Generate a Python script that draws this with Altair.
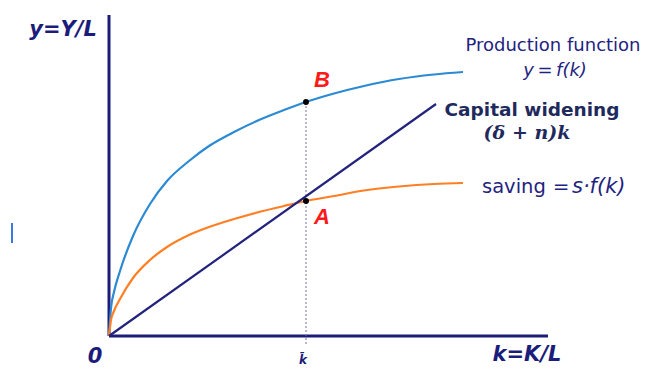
import altair as alt
import pandas as pd

# Values (arbitrary units: k along x, y along y)
k_prod = [0, 2, 5, 11, 24, 41, 58, 80, 100, 125, 150, 175, 197, 225, 255, 290, 325, 354]
y_prod = [0, 28, 44, 65, 100, 132, 155, 175, 190, 204, 216, 226, 234, 242.5, 250, 257, 261.5, 264]

k_sav = [0, 2, 5, 11, 24, 41, 58, 80, 100, 125, 150, 175, 197, 225, 255, 290, 325, 354]
y_sav = [0, 16, 25, 37, 58, 76, 89, 101, 109, 117, 124, 130, 135, 140, 145.5, 149.5, 152, 153]

k_wid = [0, 327]
y_wid = [0, 232]

k_bar = 197
y_B = 234
y_A = 135

x_axis_end = 439
y_axis_end = 321

NAVY = "#1c1c7a"
BLUE = "#2b8ad3"
ORANGE = "#ff7f24"
LINE = "#23237e"
RED = "#ff1a1a"
TXT = "#1f2380"

xs = alt.Scale(domain=[-101, 533], nice=False, zero=False)
ys = alt.Scale(domain=[-32, 328], nice=False, zero=False)


def X(f="x"):
    return alt.X(f"{f}:Q", scale=xs, axis=None)


def Y(f="y"):
    return alt.Y(f"{f}:Q", scale=ys, axis=None)


prod = pd.DataFrame({"x": k_prod, "y": y_prod})
sav = pd.DataFrame({"x": k_sav, "y": y_sav})
wid = pd.DataFrame({"x": k_wid, "y": y_wid})

l_prod = alt.Chart(prod).mark_line(color=BLUE, strokeWidth=2.2, interpolate="monotone").encode(x=X(), y=Y())
l_sav = alt.Chart(sav).mark_line(color=ORANGE, strokeWidth=2.2, interpolate="monotone").encode(x=X(), y=Y())
l_wid = alt.Chart(wid).mark_line(color=LINE, strokeWidth=2.2).encode(x=X(), y=Y())

axes_df = pd.DataFrame({"x": [0, 0], "y": [0, 0], "x2": [0, x_axis_end], "y2": [y_axis_end, 0]})
axes = alt.Chart(axes_df).mark_rule(color=NAVY, strokeWidth=3).encode(
    x=X(), y=Y(), x2="x2:Q", y2="y2:Q"
)

dot_df = pd.DataFrame({"x": [k_bar], "y": [-8], "y2": [y_B]})
dotted = alt.Chart(dot_df).mark_rule(color="#7070a8", strokeWidth=1, strokeDash=[2, 2]).encode(
    x=X(), y=Y(), y2="y2:Q"
)

pts_df = pd.DataFrame({"x": [k_bar, k_bar], "y": [y_B, y_A]})
pts = alt.Chart(pts_df).mark_circle(color="black", size=36, opacity=1).encode(x=X(), y=Y())

art_df = pd.DataFrame({"x": [-97], "y": [93], "y2": [113]})
artifact = alt.Chart(art_df).mark_rule(color="#3a7ae0", strokeWidth=2).encode(x=X(), y=Y(), y2="y2:Q")


def txt(text, x, y, size, color, weight="normal", style="normal", font="DejaVu Sans", align="center"):
    d = pd.DataFrame({"x": [x], "y": [y], "t": [text]})
    return alt.Chart(d).mark_text(
        fontSize=size, color=color, fontWeight=weight, fontStyle=style, font=font,
        align=align, baseline="middle"
    ).encode(x=X(), y=Y(), text="t:N")


texts = [
    txt("y=Y/L", -46, 306, 21, NAVY, "bold", "italic"),
    txt("0", -14, -21, 21, NAVY, "bold", "italic"),
    txt("k\u0304", 194, -24, 12, NAVY, "bold", "italic"),
    txt("k=K/L", 418, -19, 21, NAVY, "bold", "italic"),
    txt("Production function", 444, 290, 18, TXT),
    txt("y\u2009=\u2009f(k)", 446, 265, 18, TXT, "normal", "italic"),
    txt("Capital widening", 423, 226, 18.5, "#1f2a5c", "bold"),
    txt("(\u03b4 + n)k", 418, 203, 19, "#1f2a5c", "bold", "italic", "DejaVu Serif"),
    txt("saving", 373, 149, 19.5, TXT, align="left"),
    txt("=", 452, 149, 20, TXT),
    txt("s\u00b7f(k)", 463, 149, 21, TXT, "normal", "italic", align="left"),
    txt("B", 213, 256, 22, RED, "bold", "italic", "Liberation Sans"),
    txt("A", 213, 119, 22, RED, "bold", "italic", "Liberation Sans"),
]

chart = alt.layer(axes, dotted, l_prod, l_sav, l_wid, pts, artifact, *texts).properties(
    width=634, height=360, padding=0, autosize="none", background="white"
).configure_view(stroke=None)

chart.save("out.html", embed_options={"renderer": "svg", "actions": False})
